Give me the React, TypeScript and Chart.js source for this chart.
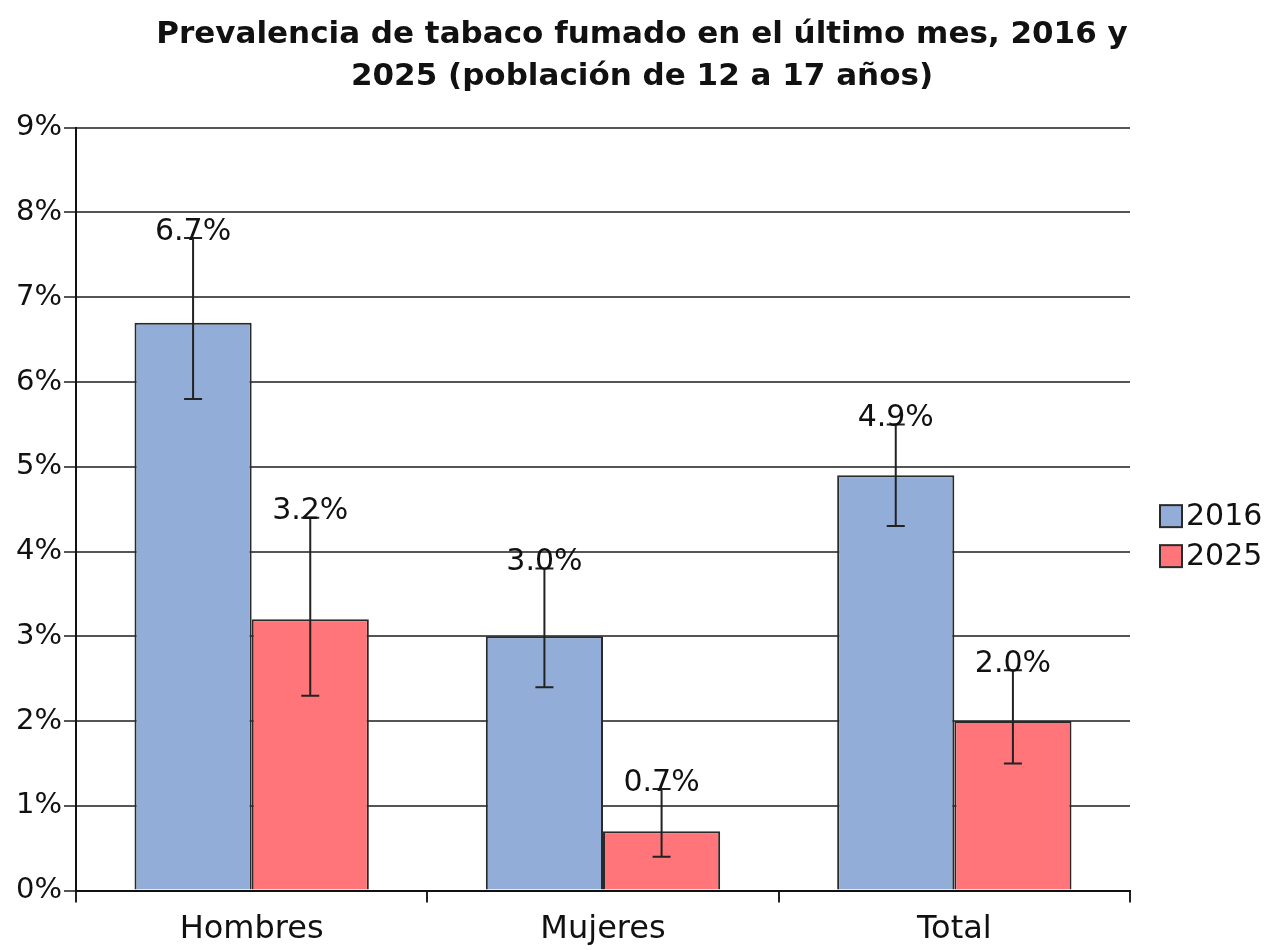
import React, { useEffect, useRef } from "react";
import { Chart, registerables } from "chart.js";

Chart.register(...registerables);

const categories = ["Hombres", "Mujeres", "Total"];
const seriesLabels = ["2016", "2025"];
const seriesColors = ["#92AED8", "#FF757A"];
const values2016 = [6.7, 3.0, 4.9];
const values2025 = [3.2, 0.7, 2.0];
const errLow2016 = [5.8, 2.4, 4.3];
const errHigh2016 = [7.7, 3.8, 5.5];
const errLow2025 = [2.3, 0.4, 1.5];
const errHigh2025 = [4.4, 1.2, 2.6];
const yTicks = [0, 1, 2, 3, 4, 5, 6, 7, 8, 9];
const titleLines = [
  "Prevalencia de tabaco fumado en el último mes, 2016 y",
  "2025 (población de 12 a 17 años)",
];

const FONT = "'DejaVu Sans', Verdana, sans-serif";

const errorBarPlugin = {
  id: "errorBars",
  afterDatasetsDraw(chart: any) {
    const ctx = chart.ctx;
    const y = chart.scales.y;
    const lows = [errLow2016, errLow2025];
    const highs = [errHigh2016, errHigh2025];
    const vals = [values2016, values2025];
    ctx.save();
    for (let d = 0; d < 2; d++) {
      const meta = chart.getDatasetMeta(d);
      meta.data.forEach((bar: any, i: number) => {
        const x = bar.x;
        const yl = y.getPixelForValue(lows[d][i]);
        const yh = y.getPixelForValue(highs[d][i]);
        ctx.strokeStyle = "#222";
        ctx.lineWidth = 2;
        ctx.beginPath();
        ctx.moveTo(x, yl);
        ctx.lineTo(x, yh);
        ctx.moveTo(x - 9, yl);
        ctx.lineTo(x + 9, yl);
        ctx.moveTo(x - 9, yh);
        ctx.lineTo(x + 9, yh);
        ctx.stroke();
        ctx.fillStyle = "#111";
        ctx.font = `30px ${FONT}`;
        ctx.textAlign = "center";
        ctx.textBaseline = "middle";
        ctx.fillText(vals[d][i].toFixed(1) + "%", x, yh - 6);
      });
    }
    ctx.restore();
  },
};

const legendPlugin = {
  id: "sideLegend",
  afterDraw(chart: any) {
    const ctx = chart.ctx;
    const area = chart.chartArea;
    const x0 = area.right + 30;
    const yc = (area.top + area.bottom) / 2 + 27;
    const gap = 40;
    ctx.save();
    seriesLabels.forEach((lab, i) => {
      const cy = yc - gap / 2 + i * gap;
      ctx.fillStyle = seriesColors[i];
      ctx.fillRect(x0, cy - 11, 22, 22);
      ctx.strokeStyle = "#2a2a2a";
      ctx.lineWidth = 2;
      ctx.strokeRect(x0, cy - 11, 22, 22);
      ctx.fillStyle = "#111";
      ctx.font = `30px ${FONT}`;
      ctx.textAlign = "left";
      ctx.textBaseline = "middle";
      ctx.fillText(lab, x0 + 26, cy + 1);
    });
    ctx.restore();
  },
};

export default function App() {
  const ref = useRef<HTMLCanvasElement>(null);
  useEffect(() => {
    if (!ref.current) return;
    const chart = new Chart(ref.current, {
      type: "bar",
      data: {
        labels: categories,
        datasets: [
          {
            label: seriesLabels[0],
            data: values2016,
            backgroundColor: seriesColors[0],
            borderColor: "#2a2a2a",
            borderWidth: 2,
            categoryPercentage: 0.667,
            barPercentage: 1,
          },
          {
            label: seriesLabels[1],
            data: values2025,
            backgroundColor: seriesColors[1],
            borderColor: "#2a2a2a",
            borderWidth: 2,
            categoryPercentage: 0.667,
            barPercentage: 1,
          },
        ],
      },
      options: {
        responsive: true,
        maintainAspectRatio: false,
        animation: false,
        layout: { padding: { top: 0, right: -15, bottom: 0, left: 0 } },
        plugins: {
          title: {
            display: true,
            text: titleLines,
            color: "#111",
            font: { family: FONT, size: 31, weight: "bold", lineHeight: 1.35 },
            padding: { top: 6, bottom: 30 },
          },
          legend: { display: false },
          tooltip: { enabled: false },
        },
        scales: {
          x: {
            grid: {
              display: true,
              drawOnChartArea: false,
              drawTicks: true,
              tickLength: 12,
              color: "#222",
              lineWidth: 2,
              offset: true,
            },
            border: { color: "#111", width: 2 },
            ticks: {
              color: "#111",
              font: { family: FONT, size: 32 },
              padding: 8,
            },
          },
          y: {
            min: 0,
            max: 9,
            afterBuildTicks: (s: any) => {
              s.ticks = yTicks.map((v) => ({ value: v }));
            },
            afterFit: (s: any) => {
              s.width = 68;
            },
            grid: {
              color: "#555",
              lineWidth: 2,
              tickLength: 12,
            },
            border: { color: "#111", width: 2 },
            ticks: {
              color: "#111",
              font: { family: FONT, size: 29 },
              padding: 2,
              callback: (v: any) => v + "%",
            },
          },
          legendSpace: {
            type: "linear",
            position: "right",
            display: true,
            min: 0,
            max: 9,
            afterFit: (s: any) => {
              s.width = 146;
            },
            grid: { display: false, drawOnChartArea: false },
            border: { display: false },
            ticks: { display: false },
          },
        },
      },
      plugins: [errorBarPlugin, legendPlugin],
    });
    return () => chart.destroy();
  }, []);
  return (
    <div style={{ width: 1253, height: 949, position: "relative" }}>
      <canvas ref={ref} />
    </div>
  );
}
